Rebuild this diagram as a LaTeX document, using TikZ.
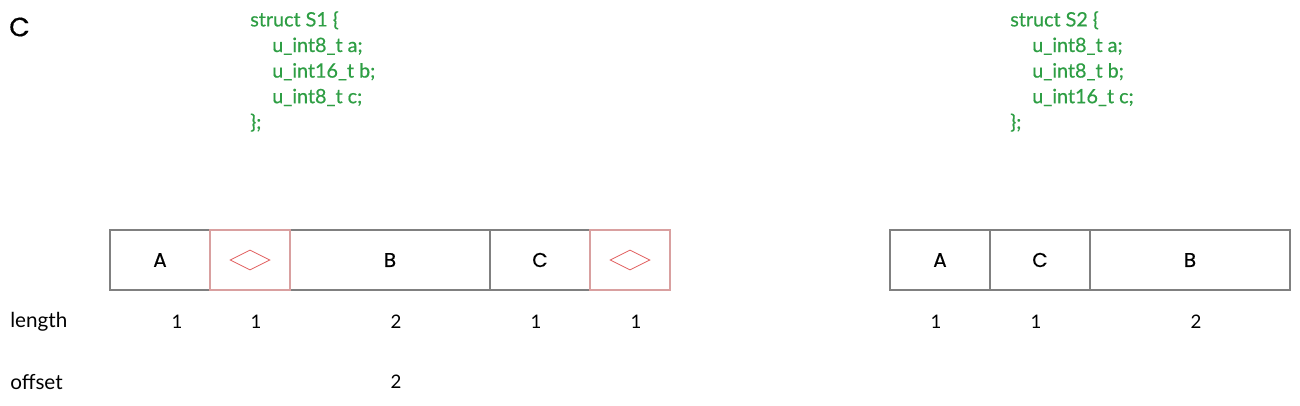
\documentclass[tikz,border=0pt]{standalone}
\usepackage{fontspec}
\setmainfont{Lato}
\newfontfamily\cellfont[FakeBold=0.4]{Poppins}
\newfontfamily\codefont[FakeBold=0.6]{Lato}
\usepackage{tikz}
\usetikzlibrary{positioning,shapes.geometric}
\usepackage{xcolor}
\definecolor{codegreen}{HTML}{2E9E44}
\definecolor{cellgray}{HTML}{808080}
\definecolor{padred}{HTML}{D9A0A0}
\definecolor{markred}{HTML}{E05A5A}

\begin{document}
\begin{tikzpicture}[x=0.75pt,y=-0.75pt,
  cell/.style={rectangle, draw=cellgray, line width=0.9pt, outer sep=0pt, minimum height=45pt, font=\cellfont\fontsize{15}{17}\selectfont},
  padline/.style={draw=padred, line width=0.9pt},
  padmark/.style={diamond, draw=markred, line width=0.6pt, aspect=2, minimum width=30pt, minimum height=15pt, inner sep=0pt},
  code/.style={text=codegreen, align=left, anchor=north west, inner sep=0pt, font=\codefont\fontsize{14.8}{19.2}\selectfont},
  num/.style={font=\fontsize{14}{16}\selectfont},
  rowlabel/.style={anchor=west, inner sep=0pt, font=\fontsize{15.5}{17}\selectfont}]
\useasboundingbox (0,0) rectangle (1300,405);

\node[anchor=west, inner sep=0pt, font=\cellfont\fontsize{20}{24}\selectfont] (title) at (9,27) {C};

\node[code] (codeS1) at (250,11) {struct S1 \{\\
\hspace*{16.5pt}u\_int8\_t a;\\
\hspace*{16.5pt}u\_int16\_t b;\\
\hspace*{16.5pt}u\_int8\_t c;\\
\};};

\node[code] (codeS2) at (1010,11) {struct S2 \{\\
\hspace*{16.5pt}u\_int8\_t a;\\
\hspace*{16.5pt}u\_int8\_t b;\\
\hspace*{16.5pt}u\_int16\_t c;\\
\};};

% S1 layout with padding
\node[cell, minimum width=75pt] (a1) at (160,260) {A};
\node[cell, minimum width=60pt, right=0pt of a1] (pad1) {};
\node[cell, minimum width=150pt, right=0pt of pad1] (b1) {B};
\node[cell, minimum width=75pt, right=0pt of b1] (c1) {C};
\node[cell, minimum width=60pt, right=0pt of c1] (pad2) {};
\draw[padline] (pad1.north west) rectangle (pad1.south east);
\draw[padline] (pad2.north west) rectangle (pad2.south east);
\node[padmark] (mark1) at (pad1) {};
\node[padmark] (mark2) at (pad2) {};

% S2 layout
\node[cell, minimum width=75pt] (a2) at (940,260) {A};
\node[cell, minimum width=75pt, right=0pt of a2] (c2) {C};
\node[cell, minimum width=150pt, right=0pt of c2] (b2) {B};

% rows
\node[rowlabel] (lenlabel) at (10,322) {length};
\node[rowlabel] (offlabel) at (10,382) {offset};

\node[num] (lenA1) at (177,322) {1};
\node[num] (lenP1) at (256,322) {1};
\node[num] (lenB1) at (396,322) {2};
\node[num] (lenC1) at (536,322) {1};
\node[num] (lenP2) at (636,322) {1};
\node[num] (offB1) at (396,382) {2};

\node[num] (lenA2) at (936,322) {1};
\node[num] (lenC2) at (1036,322) {1};
\node[num] (lenB2) at (1196,322) {2};
\end{tikzpicture}
\end{document}
